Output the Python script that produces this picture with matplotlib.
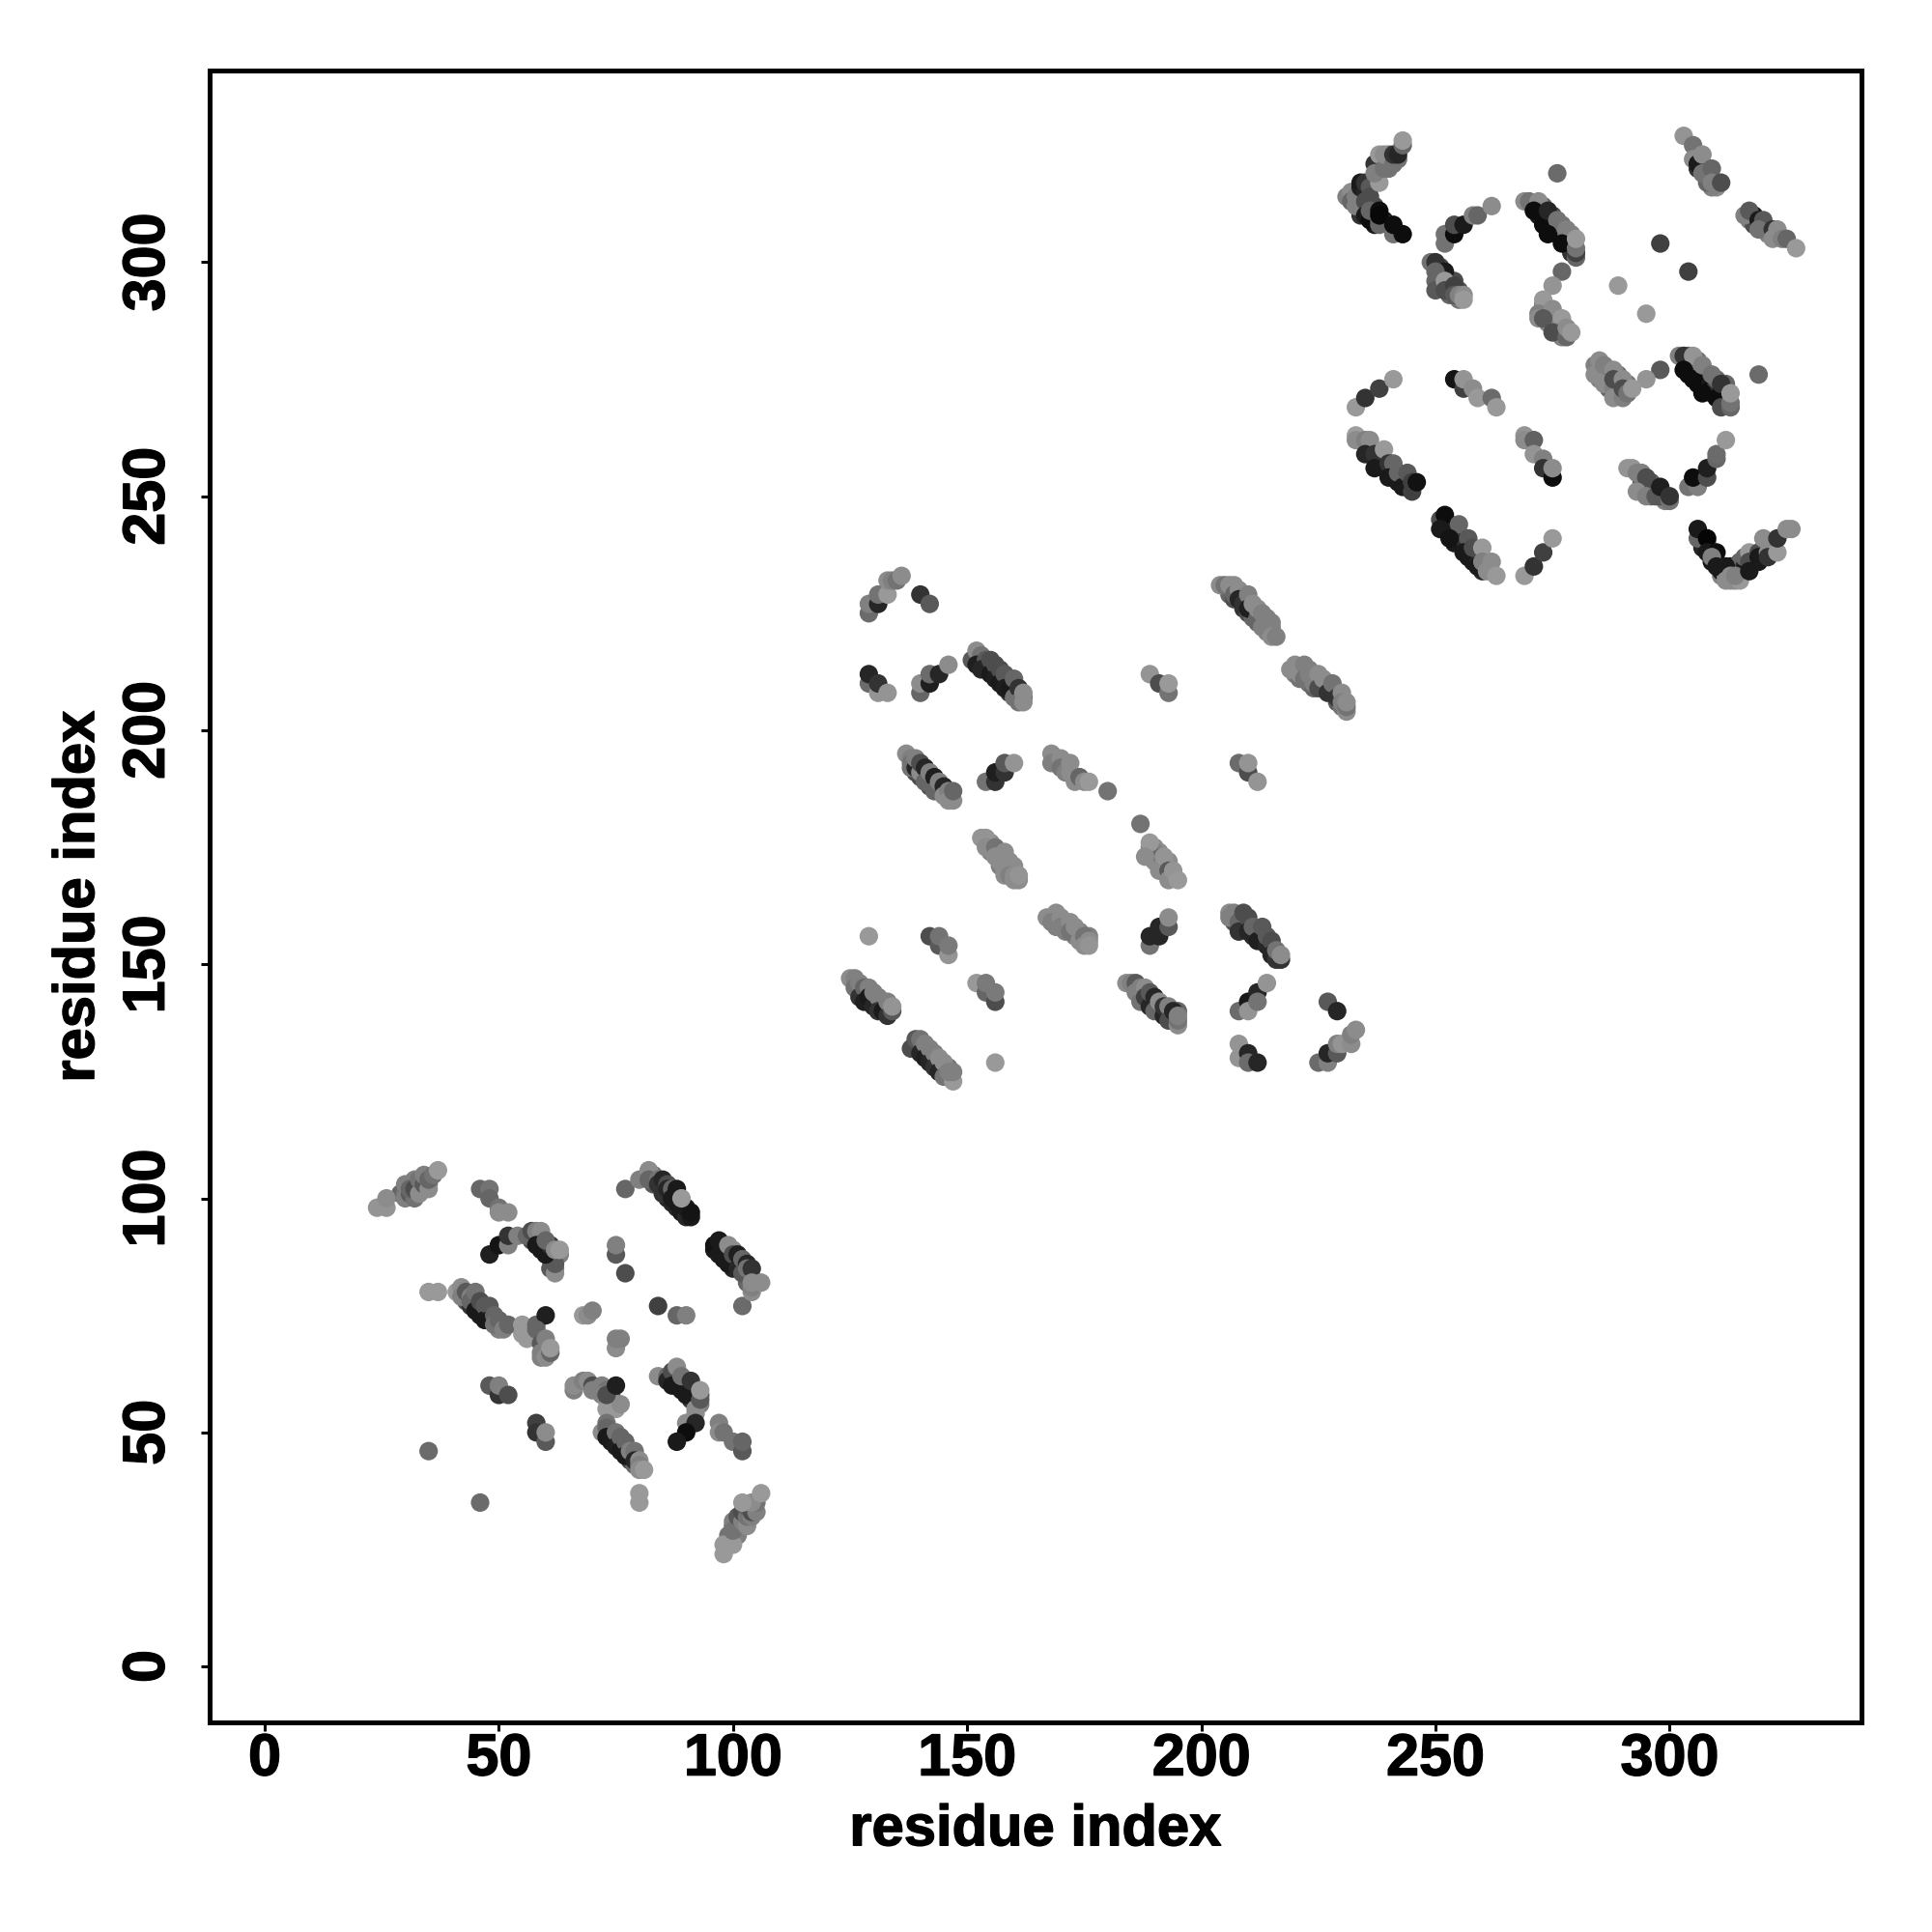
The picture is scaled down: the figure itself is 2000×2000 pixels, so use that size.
import matplotlib
matplotlib.use("Agg")
import matplotlib.pyplot as plt
import matplotlib.patheffects as pe

plt.rcParams['font.family'] = ['Liberation Sans', 'DejaVu Sans']

# (residue i, residue j, grey shade)
under_a = [
(43,78,.35),(44,77,.2),(45,78,.3),(46,76,.15),(47,76,.3),(48,75,.2),(49,74,.3),(50,72,.5),(51,73,.45),
(57,91,.3),(58,92,.3),(59,90,.2),(60,89,.2),(61,88,.2),(61,87,.3),(62,85,.45),(63,88,.5),
(83,105,.45),(83,103,.35),(85,102,.3),(86,100,.15),(87,99,.15),(88,98,.15),(89,98,.1),(89,97,.1),(90,97,.1),
(98,90,.2),(98,88,.15),(98,87,.1),(99,88,.2),(100,86,.2),(100,85,.15),(101,86,.3),(102,85,.3),(103,82,.4),(103,84,.3),(104,83,.45),
(74,50,.3),(74,49,.2),(75,48,.25),(76,48,.3),(77,46,.2),(78,45,.2),(78,44,.3),(79,43,.4),
(91,57,.2),(92,58,.2),(92,56,.3),(93,58,.3),(90,60,.3),
(100,30,.4),(101,31,.4),(102,32,.4),(103,33,.4),(104,34,.4),(99,28,.45),(101,28,.5),
(29,101,.4),(30,101,.45),(31,103,.5),(32,103,.45),(33,103,.4),(32,104,.5),(33,102,.35),(34,102,.4),(34,104,.4),(35,103,.45),
]
under_b = [
(153,214,.2),(154,213,.2),(155,213,.2),(156,212,.2),(157,211,.2),(158,210,.2),(159,211,.3),(160,208,.2),(161,207,.3),(159,208,.2),(160,209,.3),(161,208,.3),(162,207,.4),
(139,191,.3),(140,190,.3),(141,190,.3),(142,189,.2),(142,188,.3),(143,189,.3),(144,188,.25),(144,187,.3),(145,187,.3),(146,186,.4),(139,193,.45),(138,192,.45),
(155,176,.55),(155,174,.5),(156,174,.55),(157,174,.5),(157,171,.5),(158,172,.5),(159,170,.5),(158,169,.55),(160,170,.55),(159,172,.55),(160,171,.55),
(168,160,.5),(169,159,.5),(169,158,.5),(170,159,.5),(171,159,.5),(171,158,.45),(172,158,.45),(173,156,.5),(174,157,.5),(173,157,.5),(174,156,.5),(175,155,.5),(176,156,.5),
(127,144,.3),(128,144,.3),(128,143,.2),(129,142,.15),(130,142,.15),(130,143,.3),(131,141,.2),(131,142,.3),(132,142,.35),(132,141,.25),(133,140,.25),(133,141,.35),
(139,133,.3),(139,132,.2),(140,132,.25),(141,132,.3),(141,131,.2),(142,130,.2),(142,131,.3),(143,130,.3),(143,129,.2),(144,128,.2),(144,129,.3),(145,128,.3),(145,127,.25),(146,126,.4),(146,128,.45),
(206,229,.4),(207,228,.3),(208,229,.45),(209,228,.35),(209,226,.2),(210,225,.3),(210,227,.35),(211,225,.3),(211,224,.4),(212,223,.4),(212,225,.45),(213,223,.45),(213,224,.45),(214,222,.45),(214,223,.45),(215,221,.5),(215,222,.5),
(220,212,.5),(221,213,.5),(221,211,.45),(222,212,.5),(223,210,.45),(223,213,.5),(224,211,.5),(224,209,.4),(225,210,.35),(226,209,.3),(226,210,.35),(227,209,.35),(227,210,.4),(228,208,.3),(228,209,.3),(229,208,.35),(229,206,.35),(230,207,.3),(230,205,.45),
(187,144,.35),(188,142,.3),(188,144,.4),(189,143,.3),(189,142,.2),(190,142,.2),(190,141,.2),(191,141,.2),(191,140,.2),(192,140,.2),(193,139,.2),(193,140,.25),(194,139,.2),(194,138,.3),(195,140,.4),
(207,159,.3),(207,160,.4),(208,160,.4),(209,158,.2),(209,159,.3),(210,158,.2),(210,159,.3),(211,157,.2),(211,156,.2),(212,156,.2),(212,157,.3),(213,155,.15),(213,156,.25),(214,155,.2),(215,154,.2),(215,153,.25),(216,152,.2),(217,151,.2),
(190,172,.55),(191,172,.55),(191,174,.55),(192,170,.5),(192,171,.5),(193,172,.55),(190,175,.55),(189,175,.55),(190,174,.5),
]
under_c = [
(272,310,.1),(273,310,.1),(274,308,.1),(274,309,.1),(275,307,.1),(275,309,.15),(276,306,.1),(276,307,.1),(277,306,.1),(278,304,.1),(278,305,.1),(279,303,.1),(279,304,.1),(279,302,.2),(277,308,.45),(275,310,.3),(273,312,.4),(278,306,.45),(279,306,.5),
(304,278,.05),(304,276,.05),(305,277,.1),(306,276,.1),(306,274,.05),(307,275,.1),(307,277,.4),(308,273,.05),(308,275,.1),(309,273,.05),(309,272,.05),(310,274,.2),(310,275,.4),(311,272,.1),(311,271,.1),(312,271,.1),(312,270,.3),(312,273,.3),(312,274,.4),(304,280,.4),(306,279,.45),
(238,258,.2),(238,257,.15),(239,256,.15),(239,258,.3),(240,255,.15),(241,254,.1),(241,255,.2),(242,253,.1),(242,254,.2),(243,254,.3),(243,253,.1),(244,252,.1),(244,253,.15),(244,254,.3),
(252,244,.1),(252,243,.1),(253,244,.2),(253,243,.1),(254,242,.1),(254,240,.1),(255,241,.15),(255,240,.1),(256,240,.1),(256,241,.2),(257,239,.1),(257,237,.1),(258,237,.1),(258,236,.1),(259,238,.3),(259,237,.15),(260,234,.15),
(307,240,.1),(307,239,.15),(308,240,.5),(309,238,.1),(309,236,.1),(310,236,.5),(311,235,.1),(311,233,.5),(311,234,.1),(312,233,.5),(313,235,.1),(313,232,.55),(315,234,.3),(315,236,.4),(316,235,.15),(316,234,.1),(316,237,.4),(318,236,.1),(318,237,.55),(319,236,.1),(320,238,.2),(320,237,.1),(322,239,.55),(322,240,.5),(322,238,.3),
(233,315,.3),(234,314,.1),(234,312,.4),(235,312,.15),(234,310,.2),(236,310,.1),(237,312,.3),(237,309,.1),(237,308,.1),(239,309,.1),(240,308,.2),(238,320,.4),(239,321,.5),(239,322,.5),(240,321,.5),(240,323,.45),(240,320,.45),(241,322,.5),(242,322,.45),
(251,297,.4),(251,295,.3),(251,299,.3),(252,295,.3),(253,296,.35),(253,294,.25),(253,293,.4),(254,294,.3),(255,294,.3),(255,292,.45),(254,296,.3),
(273,290,.5),(273,291,.5),(274,289,.35),(274,290,.55),(275,288,.35),(275,287,.3),(276,288,.5),(276,287,.35),(276,286,.3),(277,286,.4),(277,285,.4),(277,284,.5),
(294,252,.3),(294,253,.4),(294,255,.5),(295,251,.4),(296,252,.3),(296,250,.4),(296,253,.35),(297,251,.3),(299,250,.3),(299,249,.5),(298,250,.3),
(306,323,.3),(306,320,.2),(307,321,.3),(308,320,.3),(308,318,.2),(308,319,.4),(310,317,.5),(310,316,.55),(309,316,.5),(308,317,.4),
(317,309,.5),(318,310,.1),(318,308,.3),(320,307,.4),(321,307,.3),(321,306,.5),(323,306,.5),
(285,275,.5),(285,277,.5),(287,273,.4),(287,276,.4),(287,275,.3),(289,274,.35),(289,272,.4),(289,276,.45),(291,274,.45),
]

block_a = [
(24,98,.58),(26,98,.58),(26,100,.55),(30,100,.5),(31,101,.35),(32,100,.45),(30,103,.5),(31,102,.4),(32,102,.3),(33,101,.55),
(33,104,.45),(34,103,.35),(34,105,.5),(35,102,.55),(35,104,.4),(36,105,.45),(37,106,.6),
(46,102,.4),(48,102,.45),(48,100,.4),(50,98,.45),(50,97,.55),(52,97,.55),
(48,88,.12),(50,90,.08),(52,90,.5),(52,92,.2),(54,92,.5),(56,92,.4),(57,93,.3),(58,93,.5),(59,93,.55),(58,90,.1),(59,89,.1),
(61,85,.35),(62,84,.55),(62,86,.35),(60,88,.1),(61,90,.2),(60,91,.4),(62,89,.55),(63,89,.6),
(35,80,.6),(37,80,.6),(41,80,.6),(42,81,.55),(42,79,.5),(43,80,.35),(44,79,.5),(44,78,.4),(45,80,.45),(45,76,.1),(46,75,.1),
(46,78,.3),(47,77,.35),(47,74,.1),(48,77,.35),(48,74,.1),(49,75,.4),(49,73,.45),(50,74,.4),(51,72,.5),(52,73,.4),
(55,73,.6),(55,71,.6),(56,70,.6),(58,73,.4),(60,75,.12),(58,72,.4),(59,69,.35),(60,70,.5),(59,67,.5),(59,66,.5),(60,66,.55),(61,67,.4),(61,68,.6),
(68,75,.6),(69,75,.55),(70,76,.5),(75,88,.35),(75,90,.5),(77,84,.3),(84,77,.25),(88,75,.4),(90,75,.5),(102,77,.42),
(75,68,.55),(75,70,.5),(76,70,.5),
(77,102,.4),(80,104,.5),(82,106,.55),(82,104,.4),(84,104,.45),(84,103,.2),(85,104,.15),(85,101,.2),(86,103,.3),(86,102,.15),
(87,102,.4),(87,100,.1),(88,102,.1),(88,99,.1),(90,96,.15),(91,96,.1),(90,98,.1),(91,97,.08),(89,100,.6),
(96,89,.1),(96,90,.08),(97,91,.1),(97,88,.1),(99,86,.1),(99,90,.55),(100,89,.55),(100,88,.3),(101,85,.15),(101,88,.12),(102,87,.4),
(102,84,.35),(103,86,.15),(103,85,.45),(104,85,.2),(104,80,.55),(104,81,.5),(104,82,.55),(106,82,.55),
(48,60,.35),(50,58,.2),(50,60,.5),(52,58,.3),(58,52,.25),(58,50,.2),(60,48,.35),(60,50,.55),(35,46,.42),(46,35,.42),
(66,59,.5),(66,60,.55),(68,61,.5),(69,61,.55),(70,60,.3),(70,59,.5),(72,60,.5),(73,59,.45),(72,58,.5),(73,57,.55),(74,58,.35),
(75,55,.6),(75,56,.6),(73,55,.6),(76,56,.55),(73,58,.3),(75,60,.12),
(72,50,.55),(73,52,.45),(73,51,.4),(73,49,.1),(74,48,.1),(75,50,.45),(75,47,.12),(76,49,.4),(76,46,.1),(77,48,.4),(77,45,.1),
(78,46,.5),(79,46,.45),(79,44,.15),(80,44,.55),(80,43,.5),(80,42,.55),(81,42,.6),(80,37,.6),(80,35,.6),
(84,62,.55),(86,62,.4),(86,61,.15),(87,63,.3),(87,60,.1),(88,64,.55),(88,60,.1),(89,59,.1),(89,62,.45),(90,58,.1),(91,61,.2),
(93,56,.5),(92,55,.55),(92,54,.55),(93,57,.35),(93,59,.6),
(90,52,.55),(92,52,.15),(90,50,.05),(88,48,.1),(97,52,.5),(97,50,.55),(98,50,.45),(100,48,.45),(102,46,.35),(102,48,.4),
(98,24,.6),(98,26,.6),(100,26,.6),(100,31,.5),(100,29,.45),(101,30,.45),(101,32,.35),(102,31,.5),(102,33,.3),(103,30,.55),(103,32,.45),
(103,34,.4),(104,32,.5),(104,33,.3),(105,33,.5),(105,35,.45),(104,35,.55),(102,35,.6),(106,37,.6),
]

block_b = [
(129,225,.42),(129,227,.5),(131,227,.15),(131,229,.45),(133,229,.6),(133,232,.55),(134,232,.5),(135,232,.45),(136,233,.55),(140,229,.2),(142,227,.35),
(129,210,.42),(129,212,.15),(131,208,.58),(131,210,.2),(133,208,.58),(140,208,.4),(140,210,.55),(142,210,.12),(142,212,.42),(144,212,.15),(146,214,.55),
(151,215,.35),(152,217,.55),(153,216,.45),(152,214,.12),(154,215,.35),(153,213,.15),(155,215,.3),(155,212,.1),(156,214,.3),(156,211,.12),(157,213,.3),
(157,210,.1),(158,212,.35),(158,209,.12),(159,209,.1),(160,211,.4),(160,207,.45),(161,209,.2),(161,206,.45),(162,206,.55),(162,208,.55),
(137,195,.55),(138,194,.5),(138,193,.45),(139,192,.15),(139,194,.5),(140,191,.55),(140,193,.3),(141,192,.15),(141,189,.4),(142,191,.5),(143,190,.12),
(143,187,.4),(144,189,.5),(145,188,.15),(145,186,.55),(146,187,.5),(146,185,.55),(147,185,.55),(147,187,.4),
(154,189,.45),(156,189,.2),(156,191,.12),(158,191,.2),(158,193,.35),(160,193,.58),
(168,195,.55),(168,193,.5),(170,194,.55),(170,192,.45),(171,191,.5),(172,193,.55),(172,191,.55),(173,189,.55),(174,190,.4),(175,189,.55),(176,189,.6),(180,187,.45),
(153,177,.58),(154,177,.58),(154,175,.55),(156,175,.45),(156,173,.55),(157,172,.55),(158,174,.55),(158,170,.55),(159,171,.55),(159,169,.5),(160,169,.55),(160,168,.55),(161,168,.55),(161,169,.58),
(167,160,.55),(169,161,.55),(168,159,.5),(170,160,.55),(170,158,.5),(171,157,.5),(172,159,.55),(172,157,.45),(173,158,.55),(174,155,.55),(175,156,.45),(175,154,.55),(176,155,.55),(176,154,.58),
(129,156,.6),(142,156,.3),(144,154,.35),(144,156,.45),(146,152,.58),(146,154,.48),
(152,146,.6),(154,144,.4),(154,146,.48),(156,142,.3),(156,144,.48),(156,129,.6),
(125,147,.55),(126,147,.5),(126,145,.45),(127,146,.5),(127,143,.2),(128,145,.4),(128,142,.12),(129,145,.5),(129,143,.1),(130,141,.15),(130,144,.5),(131,143,.5),(131,140,.2),(132,140,.1),(133,139,.2),(133,142,.5),(134,140,.35),(134,141,.58),
(138,132,.3),(139,134,.35),(140,134,.45),(140,131,.15),(141,133,.5),(141,130,.12),(142,132,.5),(142,129,.15),(143,131,.5),(143,128,.2),(144,130,.55),(144,127,.15),(145,129,.55),(145,126,.45),(147,125,.6),(146,127,.5),(147,127,.5),
(189,212,.58),(191,210,.3),(193,208,.45),(193,210,.6),
(204,231,.55),(205,231,.45),(206,231,.55),(207,231,.55),(207,229,.4),(208,230,.55),(208,228,.15),(209,227,.2),(210,229,.5),(210,226,.12),(211,227,.55),(212,224,.4),(212,226,.55),(213,222,.5),(213,225,.5),(214,224,.5),(214,221,.5),(215,223,.5),(215,220,.55),(216,220,.5),
(219,213,.55),(220,214,.55),(221,212,.55),(222,214,.5),(222,211,.45),(223,212,.5),(224,210,.5),(225,212,.55),(225,209,.3),(226,211,.55),(227,208,.2),(228,210,.45),(229,207,.2),(230,208,.55),(230,206,.5),(231,204,.55),(231,205,.45),(231,206,.55),
(208,193,.42),(210,191,.3),(210,193,.58),(212,189,.58),
(187,180,.45),(189,174,.4),(189,176,.6),(188,173,.55),(191,170,.55),(192,173,.58),(193,170,.35),(193,168,.55),(194,170,.58),(195,168,.6),
(184,146,.55),(185,146,.5),(186,146,.35),(186,144,.5),(187,142,.45),(187,145,.5),(188,145,.55),(188,143,.25),(189,141,.15),(189,144,.35),(190,143,.15),(190,140,.4),(191,142,.55),(192,139,.15),(192,141,.2),(193,141,.5),(193,138,.3),(194,140,.15),(195,137,.55),(195,138,.45),(195,139,.5),
(189,154,.45),(189,156,.15),(191,156,.15),(191,158,.15),(193,158,.35),(193,160,.55),
(206,161,.55),(206,160,.5),(207,161,.5),(208,159,.4),(208,157,.2),(209,161,.3),(210,160,.3),(210,157,.15),(211,158,.4),(212,155,.12),(213,158,.35),(214,154,.15),(214,156,.35),(215,155,.3),(215,152,.15),(216,151,.2),(216,153,.45),(217,152,.55),
(208,140,.42),(210,142,.1),(210,140,.58),(212,144,.15),(212,142,.45),(214,146,.58),(227,142,.35),(229,140,.15),
(208,133,.58),(208,130,.58),(210,131,.15),(210,129,.42),(212,129,.15),
(225,129,.42),(227,129,.5),(227,131,.15),(229,131,.35),(229,133,.5),(230,133,.58),(232,133,.55),(232,135,.5),(233,136,.55),
]

block_c = [
(231,314,.5),(232,315,.55),(232,313,.4),(233,314,.5),(233,312,.5),(234,316,.12),(234,317,.1),(235,315,.15),(235,317,.2),(235,313,.3),(236,316,.35),(236,314,.3),
(235,310,.1),(236,309,.05),(237,310,.05),(236,311,.4),(238,309,.4),(238,308,.4),(238,311,.05),(238,310,.03),(241,306,.45),(241,308,.05),(243,306,.05),
(238,317,.6),(237,321,.2),(237,319,.5),(238,323,.6),(239,320,.45),(239,323,.55),(241,321,.45),(241,323,.2),(242,323,.15),(243,325,.4),(243,326,.6),
(252,304,.45),(252,306,.45),(254,306,.05),(254,308,.3),(256,308,.1),(258,310,.5),(259,310,.4),(262,312,.55),
(249,300,.45),(250,300,.2),(252,298,.1),(250,298,.4),(250,296,.4),(250,294,.35),(252,296,.6),(252,294,.3),(254,295,.25),(254,293,.35),(255,293,.5),(256,293,.55),(256,292,.6),
(269,313,.55),(270,313,.45),(272,313,.55),(271,311,.05),(273,308,.05),(274,311,.15),(276,309,.45),(274,306,.05),(278,307,.5),(277,304,.05),(280,301,.4),(280,302,.25),(280,303,.45),(280,305,.6),
(276,319,.42),(277,298,.4),(275,295,.58),(289,295,.6),(295,289,.6),(298,304,.25),(304,298,.25),
(273,292,.6),(272,289,.5),(272,288,.55),(275,290,.55),(274,287,.5),(273,288,.35),(277,288,.6),(276,285,.5),(275,285,.3),(278,284,.4),(278,286,.55),(279,285,.6),
(303,327,.58),(305,325,.45),(305,322,.55),(306,321,.1),(307,323,.55),(307,319,.45),(309,320,.4),(309,317,.5),(311,317,.3),
(316,310,.5),(317,311,.35),(319,309,.1),(320,309,.35),(319,307,.45),(322,307,.2),(323,307,.55),(322,305,.55),(324,305,.5),(325,305,.4),(327,303,.6),
(298,277,.35),(295,275,.58),(284,278,.5),(285,279,.55),(284,276,.55),(286,278,.5),(286,274,.55),(288,277,.55),(288,273,.5),(288,271,.55),(290,271,.5),(288,275,.3),(290,275,.55),(290,273,.3),(291,272,.45),(292,273,.6),
(302,280,.5),(303,280,.2),(305,280,.58),(303,277,.05),(305,275,.05),(307,278,.5),(309,276,.45),(307,272,.05),(310,271,.05),(311,274,.2),(311,269,.3),(313,269,.4),(313,270,.45),(313,272,.6),(319,276,.42),
(233,269,.6),(235,271,.2),(238,273,.25),(241,275,.6),(254,275,.08),(256,273,.25),(256,275,.58),(258,273,.55),(259,271,.6),(262,271,.42),(263,269,.6),
(233,263,.62),(233,262,.55),(235,262,.5),(236,262,.55),(235,259,.15),(237,259,.2),(239,260,.6),(237,256,.1),(240,257,.2),(241,257,.4),(240,254,.1),(242,255,.4),(243,252,.1),(244,255,.35),(245,251,.25),(245,253,.25),(246,253,.07),
(269,263,.58),(269,262,.55),(271,262,.38),(271,259,.58),(273,258,.5),(273,256,.2),(275,254,.05),(275,256,.55),
(291,256,.58),(292,256,.58),(293,255,.5),(295,254,.3),(293,251,.55),(295,250,.5),(297,250,.35),(298,252,.12),(300,249,.45),(300,250,.2),
(304,252,.45),(306,252,.5),(305,254,.05),(308,254,.3),(308,256,.12),(310,258,.4),(310,259,.42),(312,262,.6),
(251,245,.3),(252,246,.05),(251,243,.1),(255,244,.4),(253,241,.08),(257,241,.35),(256,238,.1),(258,239,.3),(260,239,.6),(259,235,.1),(260,236,.5),(262,236,.55),(261,234,.55),(263,233,.6),
(269,233,.6),(271,235,.2),(273,238,.25),(275,241,.6),
(306,241,.4),(306,243,.1),(308,241,.02),(308,238,.1),(310,238,.05),(309,237,.5),(310,235,.1),(312,235,.1),(312,232,.55),(314,232,.55),(313,233,.55),(315,232,.6),(314,233,.5),
(317,238,.6),(317,236,.3),(317,234,.1),(319,238,.3),(319,237,.1),(320,241,.55),(321,238,.55),(321,237,.2),(323,238,.6),(323,241,.2),(325,243,.55),(326,243,.55),
]

x_ticks = [0, 50, 100, 150, 200, 250, 300]
y_ticks = [0, 50, 100, 150, 200, 250, 300]
x_label = "residue index"
y_label = "residue index"

fig = plt.figure(figsize=(20, 20), dpi=100)
ax = fig.add_axes([0.1084, 0.1084, 0.8552, 0.8552])

for block in (under_a, under_b, under_c, block_a, block_b, block_c):
    xs = [p[0] for p in block]
    ys = [p[1] for p in block]
    cs = [str(p[2]) for p in block]
    ax.scatter(xs, ys, s=190, c=cs, linewidths=0, zorder=3)

ax.set_xlim(-11.8, 341)
ax.set_ylim(-12, 341)
ax.set_xticks(x_ticks)
ax.set_yticks(y_ticks)
ax.tick_params(axis='both', direction='out', length=6.5, width=2.2, labelsize=44)
ax.tick_params(axis='x', pad=1)
ax.tick_params(axis='y', pad=18)
bold = [pe.withStroke(linewidth=1.0, foreground='black')]
for t in ax.get_xticklabels():
    t.set_fontweight('bold')
    t.set_path_effects(bold)
for t in ax.get_yticklabels():
    t.set_fontweight('bold')
    t.set_rotation(90)
    t.set_va('center')
    t.set_path_effects(bold)
for s in ax.spines.values():
    s.set_linewidth(3.6)
ax.set_xlabel(x_label, fontsize=43, fontweight='bold', labelpad=12, path_effects=bold)
ax.set_ylabel(y_label, fontsize=43, fontweight='bold', labelpad=12, path_effects=bold)

fig.savefig("out.png", dpi=100)
